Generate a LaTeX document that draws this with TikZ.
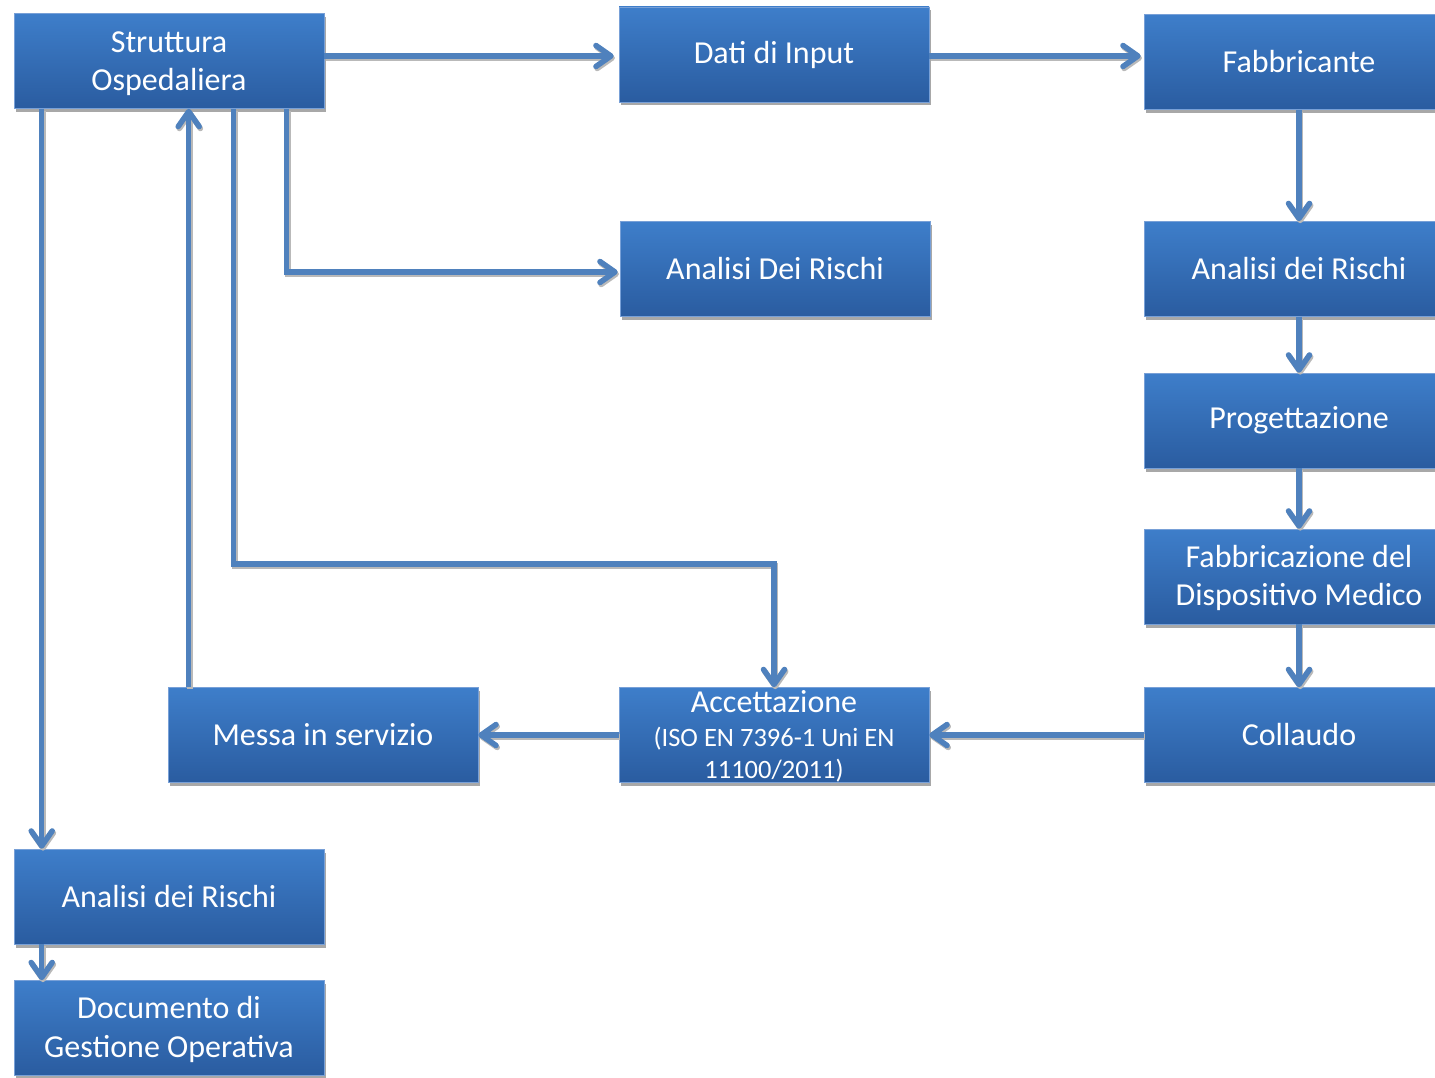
\documentclass[tikz,border=0pt]{standalone}
\usepackage{fontspec}
\setmainfont{Carlito}
\usetikzlibrary{arrows.meta,shadows,calc}
\definecolor{boxtop}{RGB}{62,126,202}
\definecolor{boxbot}{RGB}{42,92,160}
\definecolor{boxedge}{RGB}{120,160,215}
\definecolor{arrc}{RGB}{79,129,189}
\tikzset{
  box/.style={rectangle, minimum width=310pt, minimum height=95pt, inner sep=0pt,
    top color=boxtop, bottom color=boxbot, draw=boxedge, line width=0.6pt,
    text=white, align=center, font=\fontsize{32}{38.5}\selectfont,
    drop shadow={shadow xshift=1.5pt, shadow yshift=-3.5pt, fill=gray!75, opacity=0.9}},
  tipshape/.style={-{Straight Barb[length=15pt,width=21pt,round]}},
  conn/.style={draw=arrc, line width=5.5pt, tipshape,
    preaction={draw=gray!55, line width=5.5pt, tipshape,
      transform canvas={xshift=1.2pt,yshift=-2pt}}}
}
\begin{document}
\begin{tikzpicture}[x=1pt,y=-1pt]
\useasboundingbox (0,0) rectangle (1435,1078);
\node[box] (so) at (169,61) {\rule{0pt}{26pt}Struttura\\Ospedaliera};
\node[box] (dati) at (774,54.5) {Dati di Input};
\node[box] (fab) at (1299,62) {Fabbricante};
\node[box] (arm) at (775,269) {Analisi Dei Rischi};
\node[box] (arr) at (1299,269) {Analisi dei Rischi};
\node[box] (prog) at (1299,420.5) {Progettazione};
\node[box] (fdm) at (1299,576.5) {\rule{0pt}{25pt}Fabbricazione del\\Dispositivo Medico};
\node[box] (coll) at (1299,735) {Collaudo};
\node[box] (acc) at (774,735) {\rule{0pt}{24pt}Accettazione\\[-4pt]{\fontsize{26.5}{31}\selectfont (ISO EN 7396-1 Uni EN}\\[-7pt]{\fontsize{26.5}{31}\selectfont 11100/2011)}};
\node[box] (mis) at (323,735) {Messa in servizio};
\node[box] (arl) at (169,896.5) {Analisi dei Rischi};
\node[box] (doc) at (169,1028) {\rule{0pt}{25pt}Documento di\\Gestione Operativa};

\draw[conn] ([yshift=-1.5pt]so.east |- dati.west) -- ([xshift=-5pt,yshift=-1.5pt]dati.west);
\draw[conn] ([yshift=-1.5pt]dati.east) -- ([xshift=-3pt,yshift=-1.5pt]dati.east -| fab.west);
\draw[conn] (fab.south) -- (arr.north);
\draw[conn] (arr.south) -- (prog.north);
\draw[conn] (prog.south) -- (fdm.north);
\draw[conn] (fdm.south) -- (coll.north);
\draw[conn] (coll.west) -- (acc.east);
\draw[conn] (acc.west) -- (mis.east);
\draw[conn] ([xshift=21pt]mis.north west) -- ([xshift=21pt]mis.north west |- so.south);
\draw[conn] ([xshift=273pt]so.south west) |- ([xshift=-2pt,yshift=-3pt]arm.west);
\draw[conn] ([xshift=220pt]so.south west) -- ++(0,455) -| (acc.north);
\draw[conn] ([xshift=28pt]so.south west) -- ([xshift=28pt]so.south west |- arl.north);
\draw[conn] ([xshift=28pt]arl.south west) -- ([xshift=28pt]doc.north west);
\end{tikzpicture}
\end{document}
